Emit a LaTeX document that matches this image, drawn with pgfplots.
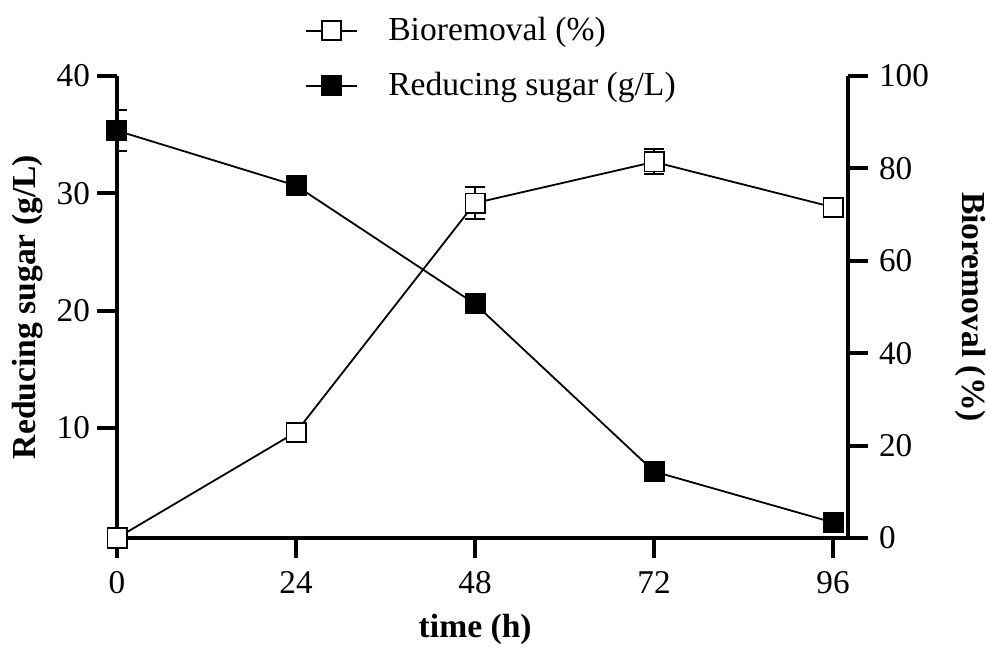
\documentclass[border=0pt]{standalone}
\usepackage{fontspec}
\setmainfont{Liberation Serif}
\usepackage{pgfplots}
\usepackage{pgfplotstable}
\pgfplotsset{compat=1.18}

\pgfplotstableread{
x y err
0 35.34 1.75
24 30.65 0.3
48 20.56 0.3
72 6.27 0.3
96 1.92 0.35
}\sugar
\pgfplotstableread{
x y err
0 0 0
24 22.9 0.5
48 72.5 3.4
72 81.4 2.7
96 71.6 0.5
}\biorem

\pgfplotsset{
  base/.style={
    scale only axis, width=365.5pt, height=231pt,
    xmin=0, xmax=98,
    axis line style={line width=2pt},
    major tick style={line width=2pt, black},
    major tick length=10pt,
    tick align=outside,
    tick label style={font=\fontsize{16.6}{19}\selectfont},
    /pgf/number format/assume math mode=true,
    label style={font=\bfseries\fontsize{16.8}{19}\selectfont},
  },
  ser/.style={black, line width=0.9pt, mark=square*, mark size=4.8pt,
    mark options={solid, line width=0.9pt}},
  errs/.style={error bars/.cd, y dir=both, y explicit,
    error bar style={line width=0.9pt, black},
    error mark options={rotate=90, mark size=5pt, line width=1pt, black}},
}

\begin{document}
\begin{tikzpicture}
\begin{axis}[base,
  axis x line*=bottom, axis y line*=left,
  ymin=0.6, ymax=40, ytick={10,20,30,40},
  xtick={0,24,48,72,96},
  xticklabel style={yshift=-3pt},
  xlabel={time (h)}, ylabel={Reducing sugar (g/L)},
  xlabel style={at={(axis description cs:0.49,-0.197)}, anchor=center},
  ylabel style={at={(axis description cs:-0.122,0.5)}, anchor=center},
]
\addplot[ser, mark options={fill=black}, errs] table[x=x, y=y, y error=err]{\sugar};
\end{axis}
\begin{axis}[base,
  axis x line=none, axis y line*=right,
  ymin=0, ymax=100, ytick={0,20,40,60,80,100},
  yticklabel style={xshift=2pt},
  ylabel={Bioremoval (\%)},
  ylabel style={at={(axis description cs:1.167,0.5)}, anchor=center, rotate=180},
  legend image code/.code={\draw[mark repeat=2,mark phase=2,#1] plot coordinates {(0cm,0cm) (0.45cm,0cm) (0.9cm,0cm)};},
  legend style={draw=none, fill=none, inner sep=0pt,
    at={(axis description cs:0.257,1.136)}, anchor=north west,
    font=\fontsize{16.8}{19}\selectfont, row sep=10.3pt,
    cells={anchor=west},
    /tikz/every odd column/.append style={column sep=13pt}},
]
\addplot[ser, mark options={fill=white}, errs] table[x=x, y=y, y error=err]{\biorem};
\addlegendentry{Bioremoval (\%)}
\addlegendimage{ser, mark options={fill=black}}
\addlegendentry{Reducing sugar (g/L)}
\end{axis}
\pgfresetboundingbox
\path[use as bounding box] (-58.5pt,-55pt) rectangle (434.5pt,269pt);
\end{tikzpicture}
\end{document}
